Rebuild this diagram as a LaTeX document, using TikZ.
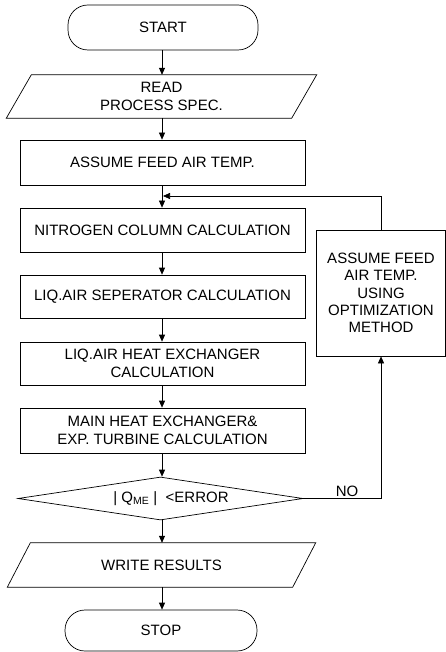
\documentclass[tikz,border=0pt]{standalone}
\usepackage{fontspec}
\setmainfont{Liberation Sans}
\usetikzlibrary{arrows.meta,shapes.geometric}
\begin{document}
\begin{tikzpicture}[x=1pt,y=-1pt,
  every node/.style={font=\fontsize{15}{18}\selectfont, align=center, inner sep=0pt},
  line/.style={line width=0.7pt},
  arr/.style={line width=0.7pt, -{Triangle[length=7pt,width=6pt]}},
  procbox/.style={draw, line width=0.7pt, minimum width=285pt, minimum height=44pt},
  term/.style={draw, line width=0.7pt, rounded corners=20pt},
  iobox/.style={minimum width=285pt}
]
\useasboundingbox (0,0) rectangle (446,652);

% terminals
\node[term, minimum width=190pt, minimum height=45pt] (start) at (163,27.5) {START};
% READ parallelogram
\node[iobox, minimum height=43pt] (read) at (161.5,96.5) {READ\\PROCESS SPEC.};
\draw[line] ([xshift=12.5pt]read.north west) -- ([xshift=12.5pt]read.north east)
  -- ([xshift=-12.5pt]read.south east) -- ([xshift=-12.5pt]read.south west) -- cycle;

\node[procbox, minimum height=45pt] (assume) at (162.5,162.5) {ASSUME FEED AIR TEMP.};
\node[procbox] (nitro) at (162.5,230) {NITROGEN COLUMN CALCULATION};
\node[procbox, minimum height=43pt] (sep) at (162.5,296.5) {LIQ.AIR SEPERATOR CALCULATION};
\node[procbox, minimum height=43pt] (lhx) at (162.5,363.5) {LIQ.AIR HEAT EXCHANGER\\CALCULATION};
\node[procbox, minimum height=45pt] (mhx) at (162.5,430.5) {MAIN HEAT EXCHANGER\&\\EXP. TURBINE CALCULATION};

\node[draw, line width=0.7pt, diamond, minimum width=285pt, minimum height=43pt] (dec) at (160.5,498.5) {};
\node at (171,498.5) {| Q\textsubscript{ME} |~~<ERROR};

% WRITE parallelogram
\node[iobox, minimum height=44pt] (write) at (161.5,565) {WRITE RESULTS};
\draw[line] ([xshift=11.5pt]write.north west) -- ([xshift=11.5pt]write.north east)
  -- ([xshift=-11.5pt]write.south east) -- ([xshift=-11.5pt]write.south west) -- cycle;

\node[term, minimum width=192pt, minimum height=41pt] (stop) at (161,630.5) {STOP};

% right box
\node[draw, line width=0.7pt, minimum width=129.5pt, minimum height=126pt,
  font=\fontsize{15}{17.4}\selectfont] (opt) at (381,293) {ASSUME FEED\\AIR TEMP.\\USING\\OPTIMIZATION\\METHOD};

% connectors
\draw[arr] (start.south -| 162,0) -- (read.north -| 162,0);
\draw[arr] (read.south -| 162,0) -- (assume.north -| 162,0);
\draw[arr] (assume.south -| 162,0) -- (nitro.north -| 162,0);
\draw[arr] (nitro.south -| 162,0) -- (sep.north -| 162,0);
\draw[arr] (sep.south -| 162,0) -- (lhx.north -| 162,0);
\draw[arr] (lhx.south -| 162,0) -- (mhx.north -| 162,0);
\draw[arr] (mhx.south -| 162,0) -- (dec.north -| 162,0);
\draw[arr] (dec.south -| 162,0) -- (write.north -| 162,0);
\draw[arr] (write.south -| 162,0) -- (stop.north -| 162,0);

\coordinate (fb) at (163,196);
\draw[arr] (opt.north) |- (fb);
\draw[arr] (dec.east) -| (opt.south);
\node[anchor=south] at (347,497) {NO};
\end{tikzpicture}
\end{document}
